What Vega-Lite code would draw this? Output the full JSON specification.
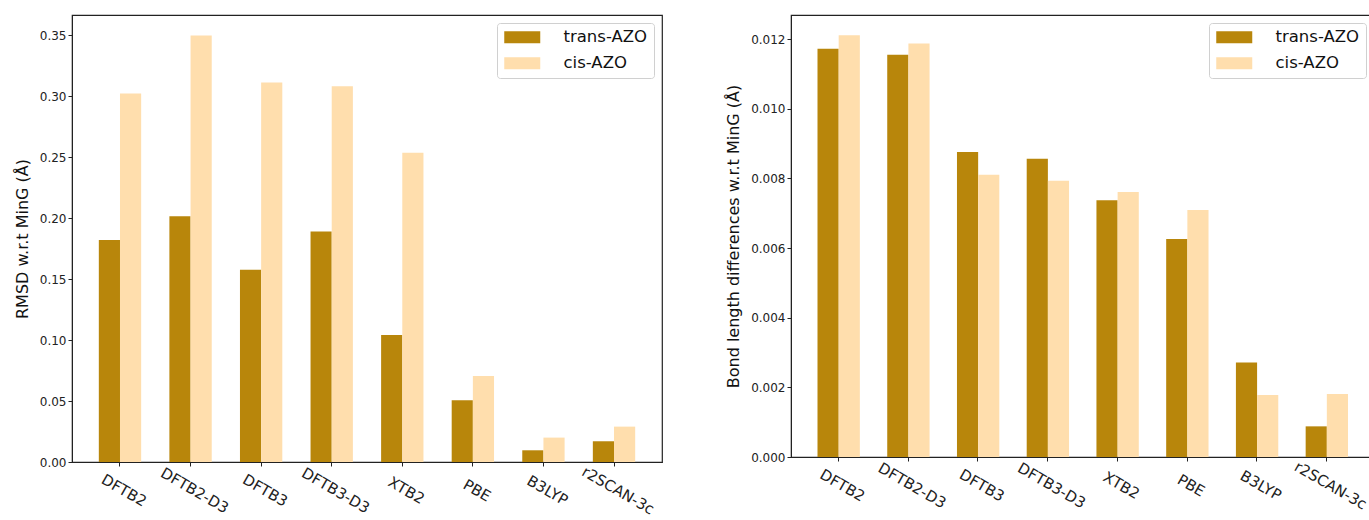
{
  "$schema": "https://vega.github.io/schema/vega-lite/v6.json",
  "padding": {"left": 13, "top": 14, "right": 0, "bottom": 0},
  "background": "white",
  "datasets": {
    "rmsd": [
      {"method": "DFTB2", "form": "trans-AZO", "value": 0.182},
      {"method": "DFTB2", "form": "cis-AZO", "value": 0.302},
      {"method": "DFTB2-D3", "form": "trans-AZO", "value": 0.2015},
      {"method": "DFTB2-D3", "form": "cis-AZO", "value": 0.3496},
      {"method": "DFTB3", "form": "trans-AZO", "value": 0.1575},
      {"method": "DFTB3", "form": "cis-AZO", "value": 0.311},
      {"method": "DFTB3-D3", "form": "trans-AZO", "value": 0.189},
      {"method": "DFTB3-D3", "form": "cis-AZO", "value": 0.308},
      {"method": "XTB2", "form": "trans-AZO", "value": 0.104},
      {"method": "XTB2", "form": "cis-AZO", "value": 0.2535},
      {"method": "PBE", "form": "trans-AZO", "value": 0.0506},
      {"method": "PBE", "form": "cis-AZO", "value": 0.0705},
      {"method": "B3LYP", "form": "trans-AZO", "value": 0.0096},
      {"method": "B3LYP", "form": "cis-AZO", "value": 0.020},
      {"method": "r2SCAN-3c", "form": "trans-AZO", "value": 0.017},
      {"method": "r2SCAN-3c", "form": "cis-AZO", "value": 0.029}
    ],
    "bond": [
      {"method": "DFTB2", "form": "trans-AZO", "value": 0.01172},
      {"method": "DFTB2", "form": "cis-AZO", "value": 0.01211},
      {"method": "DFTB2-D3", "form": "trans-AZO", "value": 0.01155},
      {"method": "DFTB2-D3", "form": "cis-AZO", "value": 0.01187},
      {"method": "DFTB3", "form": "trans-AZO", "value": 0.00876},
      {"method": "DFTB3", "form": "cis-AZO", "value": 0.0081},
      {"method": "DFTB3-D3", "form": "trans-AZO", "value": 0.00856},
      {"method": "DFTB3-D3", "form": "cis-AZO", "value": 0.00793},
      {"method": "XTB2", "form": "trans-AZO", "value": 0.00737},
      {"method": "XTB2", "form": "cis-AZO", "value": 0.00761},
      {"method": "PBE", "form": "trans-AZO", "value": 0.00626},
      {"method": "PBE", "form": "cis-AZO", "value": 0.00709},
      {"method": "B3LYP", "form": "trans-AZO", "value": 0.00271},
      {"method": "B3LYP", "form": "cis-AZO", "value": 0.00178},
      {"method": "r2SCAN-3c", "form": "trans-AZO", "value": 0.00088},
      {"method": "r2SCAN-3c", "form": "cis-AZO", "value": 0.00181}
    ]
  },
  "spacing": 62,
  "hconcat": [
    {
      "width": 590,
      "height": 447,
      "data": {"name": "rmsd"},
      "mark": {"type": "bar"},
      "encoding": {
        "x": {
          "field": "method", "type": "nominal", "sort": null, "title": null,
          "scale": {"paddingInner": 0.4, "paddingOuter": 0.38},
          "axis": {
            "labelAngle": 30, "labelAlign": "center", "labelBaseline": "middle",
            "labelFontSize": 15, "labelPadding": 24, "labelOffset": 4, "labelColor": "#222"
          }
        },
        "xOffset": {"field": "form", "type": "nominal", "sort": ["trans-AZO", "cis-AZO"], "scale": {"paddingInner": 0, "paddingOuter": 0}},
        "y": {
          "field": "value", "type": "quantitative", "title": "RMSD w.r.t MinG (Å)",
          "scale": {"domain": [0, 0.3664], "nice": false, "zero": true},
          "axis": {"values": [0, 0.05, 0.1, 0.15, 0.2, 0.25, 0.3, 0.35], "format": ".2f", "labelFontSize": 12, "titleFontSize": 16, "titlePadding": 9}
        },
        "color": {
          "field": "form", "type": "nominal", "sort": ["trans-AZO", "cis-AZO"],
          "scale": {"domain": ["trans-AZO", "cis-AZO"], "range": ["#b8860b", "#ffdead"]},
          "legend": {"title": null}
        }
      }
    },
    {
      "width": 583,
      "height": 442,
      "data": {"name": "bond"},
      "mark": {"type": "bar"},
      "encoding": {
        "x": {
          "field": "method", "type": "nominal", "sort": null, "title": null,
          "scale": {"paddingInner": 0.4, "paddingOuter": 0.38},
          "axis": {
            "labelAngle": 30, "labelAlign": "center", "labelBaseline": "middle",
            "labelFontSize": 15, "labelPadding": 24, "labelOffset": 4, "labelColor": "#222"
          }
        },
        "xOffset": {"field": "form", "type": "nominal", "sort": ["trans-AZO", "cis-AZO"], "scale": {"paddingInner": 0, "paddingOuter": 0}},
        "y": {
          "field": "value", "type": "quantitative", "title": "Bond length differences w.r.t MinG (Å)",
          "scale": {"domain": [0, 0.01269], "nice": false, "zero": true},
          "axis": {"values": [0, 0.002, 0.004, 0.006, 0.008, 0.01, 0.012], "format": ".3f", "labelFontSize": 12, "titleFontSize": 16, "titlePadding": 9}
        },
        "color": {
          "field": "form", "type": "nominal", "sort": ["trans-AZO", "cis-AZO"],
          "scale": {"domain": ["trans-AZO", "cis-AZO"], "range": ["#b8860b", "#ffdead"]},
          "legend": {"title": null}
        }
      }
    }
  ],
  "resolve": {"scale": {"color": "independent", "y": "independent", "x": "independent"}, "legend": {"color": "independent"}},
  "config": {
    "font": "DejaVu Sans",
    "view": {"stroke": "#222", "strokeWidth": 1.2},
    "axis": {
      "grid": false, "domainColor": "#222", "tickColor": "#222", "tickSize": 4,
      "labelColor": "#222", "titleColor": "#111", "titleFontWeight": "normal", "labelFont": "DejaVu Sans", "titleFont": "DejaVu Sans"
    },
    "legend": {
      "orient": "top-right", "offset": 8, "padding": 6,
      "fillColor": "rgba(255,255,255,0.85)", "strokeColor": "#d0d0d0", "cornerRadius": 3,
      "labelFontSize": 16.5, "labelColor": "#111", "labelFont": "DejaVu Sans",
      "symbolType": "M-2.25,-0.75L2.25,-0.75L2.25,0.75L-2.25,0.75Z", "symbolSize": 256,
      "symbolOffset": 11, "symbolStrokeWidth": 0, "symbolOpacity": 1, "labelOffset": 33, "rowPadding": 9
    }
  }
}
